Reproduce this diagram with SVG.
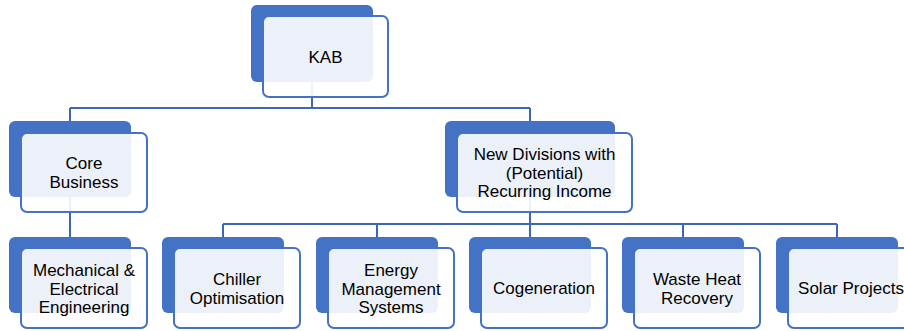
<svg xmlns="http://www.w3.org/2000/svg" width="904" height="331" viewBox="0 0 904 331">
<style>
.back{fill:#4472C4;}
.front{fill:#FFFFFF;fill-opacity:0.9;stroke:#4472C4;stroke-width:2;}
.lbl{font-family:"Liberation Sans",Arial,sans-serif;font-size:17px;fill:#000000;text-anchor:middle;}
.conn{fill:none;stroke:#3E67B1;stroke-width:2;}
</style>
<rect width="904" height="331" fill="#FFFFFF"/>
<g id="connectors">
<path class="conn" d="M312,82 V108 M70,108 H530 M70,108 V121 M530,108 V121"/>
<path class="conn" d="M70,197 V237"/>
<path class="conn" d="M530,197 V224 M223,224 H837 M223,224 V237 M377,224 V237 M530,224 V237 M683,224 V237 M837,224 V237"/>
</g>
<g id="kab">
<rect class="back" x="251" y="5" width="122" height="77" rx="6"/>
<rect class="front" x="263" y="16" width="125" height="81" rx="6"/>
<text class="lbl" x="325.5" y="62.5">KAB</text>
</g>
<g id="core">
<rect class="back" x="9" y="121" width="122" height="76" rx="6"/>
<rect class="front" x="21" y="133" width="126" height="79" rx="6"/>
<text class="lbl" x="84" y="169">Core</text>
<text class="lbl" x="84" y="187.5">Business</text>
</g>
<g id="newdiv">
<rect class="back" x="445" y="121" width="170" height="76" rx="6"/>
<rect class="front" x="457" y="133" width="175" height="79" rx="6"/>
<text class="lbl" x="544.5" y="160">New Divisions with</text>
<text class="lbl" x="544.5" y="178.5">(Potential)</text>
<text class="lbl" x="544.5" y="197">Recurring Income</text>
</g>
<g id="mech">
<rect class="back" x="9" y="237" width="122" height="76" rx="6"/>
<rect class="front" x="21" y="248" width="126" height="80" rx="6"/>
<text class="lbl" x="84" y="276">Mechanical &amp;</text>
<text class="lbl" x="84" y="294.5">Electrical</text>
<text class="lbl" x="84" y="313">Engineering</text>
</g>
<g id="chiller">
<rect class="back" x="162" y="237" width="122" height="76" rx="6"/>
<rect class="front" x="174" y="248" width="126" height="80" rx="6"/>
<text class="lbl" x="237" y="285">Chiller</text>
<text class="lbl" x="237" y="303.5">Optimisation</text>
</g>
<g id="ems">
<rect class="back" x="316" y="237" width="122" height="76" rx="6"/>
<rect class="front" x="328" y="248" width="126" height="80" rx="6"/>
<text class="lbl" x="391" y="276">Energy</text>
<text class="lbl" x="391" y="294.5">Management</text>
<text class="lbl" x="391" y="313">Systems</text>
</g>
<g id="cogen">
<rect class="back" x="469" y="237" width="122" height="76" rx="6"/>
<rect class="front" x="481" y="248" width="126" height="80" rx="6"/>
<text class="lbl" x="544" y="294">Cogeneration</text>
</g>
<g id="waste">
<rect class="back" x="622" y="237" width="122" height="76" rx="6"/>
<rect class="front" x="634" y="248" width="126" height="80" rx="6"/>
<text class="lbl" x="697" y="285">Waste Heat</text>
<text class="lbl" x="697" y="303.5">Recovery</text>
</g>
<g id="solar">
<rect class="back" x="776" y="237" width="122" height="76" rx="6"/>
<rect class="front" x="788" y="248" width="126" height="80" rx="6"/>
<text class="lbl" x="851" y="294">Solar Projects</text>
</g>
</svg>
